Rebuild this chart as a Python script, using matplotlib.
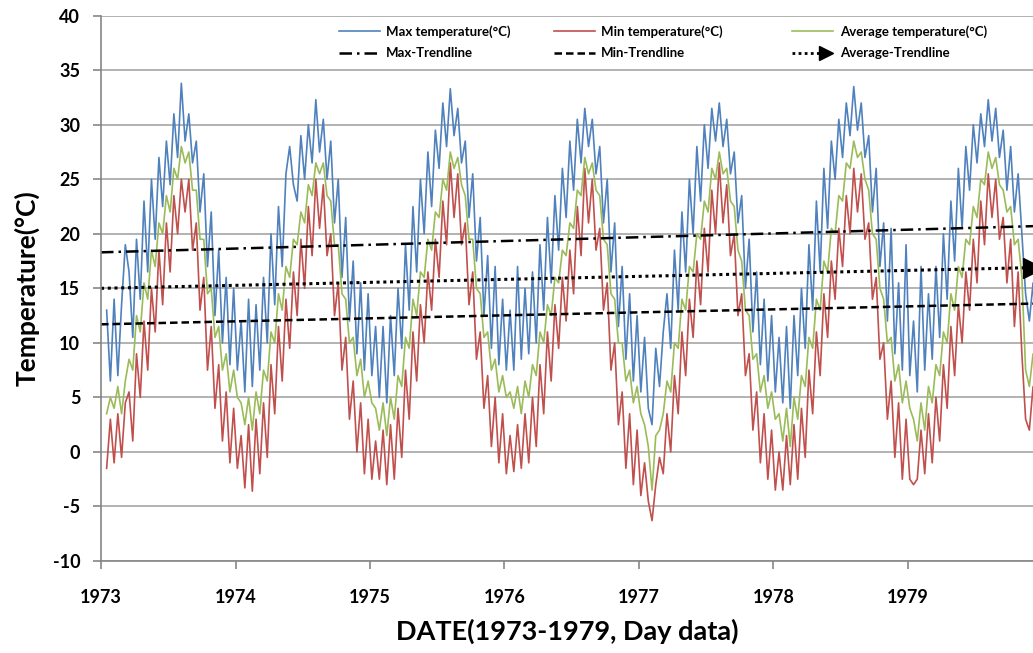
import matplotlib
matplotlib.use("Agg")
import matplotlib.pyplot as plt
from matplotlib.lines import Line2D
from matplotlib.legend_handler import HandlerBase
import numpy as np

plt.rcParams['font.family'] = ['Lato', 'DejaVu Sans']
plt.rcParams['font.weight'] = 'bold'
plt.rcParams['axes.unicode_minus'] = False

years = [1973, 1974, 1975, 1976, 1977, 1978, 1979]
points_per_year = 36  # roughly one reading every ten days

max_temp = [
    13.0, 6.5, 14.0, 7.0, 13.5, 19.0, 16.5, 10.5, 19.5, 14.0, 23.0, 16.5, 25.0, 19.5, 27.0, 22.5, 28.5, 24.5,
    31.0, 27.0, 33.8, 28.5, 31.0, 26.5, 28.5, 22.0, 25.5, 17.0, 22.0, 12.5, 18.5, 10.0, 16.0, 8.0, 15.0, 7.5,
    12.0, 5.5, 14.0, 6.0, 13.5, 7.5, 16.0, 10.0, 20.0, 13.5, 22.5, 17.0, 25.5, 28.0, 24.5, 23.0, 29.0, 25.0,
    30.0, 26.5, 32.3, 27.5, 30.5, 25.0, 28.5, 21.0, 25.0, 16.0, 21.5, 12.0, 17.5, 9.0, 15.5, 7.5, 14.5, 7.0,
    11.5, 5.0, 11.5, 4.5, 12.5, 7.0, 15.0, 9.5, 19.0, 13.0, 22.5, 16.5, 25.0, 20.0, 27.5, 22.5, 29.5, 26.0,
    32.0, 28.0, 33.3, 29.0, 31.5, 26.5, 28.5, 21.5, 25.5, 17.5, 21.5, 12.5, 18.0, 9.5, 17.0, 8.0, 14.0, 7.5,
    13.0, 7.5, 17.0, 8.5, 15.0, 9.0, 16.5, 10.0, 19.0, 13.0, 21.5, 15.5, 23.5, 18.5, 26.0, 21.5, 28.5, 24.0,
    30.5, 26.5, 31.5, 28.0, 30.5, 25.5, 28.0, 21.0, 25.0, 16.5, 21.0, 11.5, 17.0, 8.5, 14.5, 6.5, 12.5, 5.5,
    10.5, 4.0, 2.5, 9.5, 6.0, 11.0, 14.5, 9.5, 18.5, 13.0, 22.0, 16.5, 25.0, 20.0, 28.0, 23.0, 30.0, 26.0,
    31.5, 28.5, 32.0, 28.0, 30.5, 25.5, 27.5, 21.0, 23.5, 15.0, 19.5, 11.0, 16.5, 8.0, 14.0, 6.5, 12.5, 5.5,
    10.5, 4.5, 11.5, 4.0, 12.5, 7.0, 15.0, 9.5, 19.0, 13.0, 23.0, 16.5, 26.0, 20.5, 28.5, 25.0, 30.5, 27.0,
    32.0, 29.0, 33.5, 29.5, 32.0, 27.0, 29.0, 22.0, 26.0, 17.0, 21.0, 12.0, 20.5, 9.0, 15.5, 7.5, 19.0, 7.0,
    12.0, 5.5, 17.0, 7.5, 14.5, 8.5, 17.0, 10.5, 20.0, 14.0, 23.0, 17.5, 26.0, 20.5, 28.0, 24.0, 30.0, 26.5,
    31.0, 28.0, 32.3, 28.5, 31.5, 27.0, 29.5, 24.0, 28.0, 22.0, 25.5, 20.0, 14.5, 12.0, 15.5, 9.0, 12.5, 8.0,
]
min_temp = [
    -1.5, 3.0, -1.0, 3.5, -0.5, 4.5, 5.5, 1.0, 9.0, 5.0, 12.0, 7.5, 15.0, 11.0, 18.5, 13.5, 21.0, 16.5,
    23.5, 20.0, 25.0, 22.0, 25.0, 18.5, 21.0, 13.0, 16.0, 7.5, 11.5, 4.0, 8.0, 1.0, 5.5, -1.0, 4.0, -1.5,
    1.5, -3.3, 2.5, -3.6, 3.0, -2.0, 4.5, -0.5, 8.0, 3.5, 11.5, 6.5, 14.0, 9.5, 16.5, 12.5, 19.5, 15.0,
    22.5, 18.0, 25.0, 20.5, 24.5, 18.0, 20.0, 12.5, 15.5, 7.5, 10.5, 3.0, 6.5, 0.0, 4.5, -2.0, 3.0, -2.5,
    1.0, -2.5, 2.0, -3.0, 2.5, -2.5, 4.0, -0.5, 7.5, 3.0, 11.0, 6.5, 13.5, 10.0, 16.5, 13.0, 19.5, 16.0,
    23.0, 19.0, 26.5, 21.5, 25.5, 19.0, 21.0, 13.5, 16.5, 8.5, 11.0, 4.0, 7.0, 0.5, 5.0, -1.0, 3.5, -2.0,
    1.5, -1.8, 2.5, -1.5, 3.5, -1.0, 5.0, 0.5, 8.0, 3.5, 11.0, 6.5, 13.5, 9.5, 16.0, 12.0, 18.5, 14.5,
    22.5, 18.0, 26.0, 21.0, 25.0, 18.5, 20.5, 13.0, 15.5, 7.5, 10.0, 2.5, 5.5, -1.5, 3.5, -3.0, 2.0, -4.0,
    -1.0, -4.5, -6.3, -3.0, -0.5, -2.0, 3.5, 0.0, 7.0, 3.5, 11.0, 7.0, 14.0, 10.5, 17.5, 13.5, 20.5, 16.5,
    24.0, 20.0, 26.5, 21.0, 24.5, 18.0, 20.0, 12.5, 14.5, 7.0, 9.0, 2.0, 5.5, -1.0, 3.5, -2.5, 2.0, -3.5,
    0.0, -3.5, 1.5, -3.0, 2.5, -2.5, 4.0, -0.5, 7.5, 3.5, 11.0, 7.0, 14.5, 10.5, 17.5, 14.0, 20.5, 17.0,
    23.5, 20.0, 26.0, 22.0, 25.5, 19.5, 21.0, 14.0, 16.0, 8.5, 10.0, 3.0, 6.5, -0.5, 4.5, -2.5, 3.0, -2.5,
    -3.0, -2.5, 2.0, -2.0, 3.5, -1.0, 5.0, 1.0, 8.0, 4.0, 11.5, 7.0, 13.5, 10.0, 16.5, 13.0, 19.5, 15.5,
    23.0, 19.0, 25.5, 21.5, 25.0, 19.5, 21.5, 15.5, 19.5, 11.5, 16.5, 9.0, 3.0, 2.0, 6.0, 1.0, 2.0, 0.0,
]
avg_temp = [
    3.5, 5.0, 4.0, 6.0, 3.5, 6.5, 8.5, 7.5, 12.5, 11.0, 15.5, 14.0, 18.5, 17.0, 21.0, 20.0, 23.5, 22.0,
    26.0, 25.0, 28.0, 26.5, 27.5, 24.0, 24.0, 19.5, 19.5, 14.5, 15.0, 10.5, 11.5, 7.5, 9.0, 5.5, 7.5, 5.0,
    4.5, 2.5, 5.0, 2.0, 5.5, 3.5, 7.5, 6.5, 11.0, 10.0, 14.5, 13.0, 17.0, 16.0, 19.5, 19.0, 22.0, 21.0,
    24.5, 23.5, 26.5, 25.5, 26.5, 23.5, 23.0, 19.0, 19.0, 14.5, 14.0, 10.0, 10.5, 7.0, 8.5, 5.0, 6.5, 4.5,
    4.0, 2.0, 4.5, 1.5, 5.0, 3.0, 7.0, 6.0, 10.5, 9.5, 14.0, 12.5, 16.5, 16.0, 19.5, 18.5, 22.0, 21.5,
    25.0, 24.0, 27.5, 26.0, 27.0, 24.5, 23.5, 19.5, 19.5, 15.0, 14.5, 10.5, 11.0, 7.5, 8.5, 5.5, 7.0, 5.0,
    5.5, 4.0, 6.0, 3.5, 6.5, 5.0, 8.0, 7.0, 11.0, 10.0, 13.5, 12.5, 16.0, 15.5, 18.5, 18.0, 21.0, 20.5,
    24.0, 23.5, 27.0, 25.5, 26.5, 24.0, 23.5, 19.5, 19.0, 14.5, 14.0, 10.0, 10.0, 6.5, 7.5, 4.5, 6.0, 3.5,
    2.5, 0.5, -3.5, 1.5, 2.0, 3.5, 6.5, 5.5, 10.0, 9.5, 14.0, 13.0, 17.0, 16.5, 20.0, 19.5, 23.0, 22.0,
    26.0, 25.0, 27.5, 25.5, 26.0, 23.0, 22.5, 18.5, 17.5, 13.0, 12.5, 8.5, 9.0, 5.5, 7.0, 4.0, 5.5, 3.0,
    3.5, 1.0, 4.0, 0.5, 5.0, 3.0, 7.0, 6.0, 10.5, 9.5, 14.0, 13.0, 17.5, 16.5, 20.5, 20.0, 23.5, 23.0,
    26.5, 26.0, 28.5, 27.0, 27.5, 25.0, 24.0, 20.0, 19.5, 15.0, 14.0, 10.0, 10.5, 6.5, 8.0, 4.5, 6.5, 4.0,
    3.0, 1.0, 4.5, 2.0, 6.0, 4.5, 8.0, 7.0, 11.0, 10.0, 14.5, 13.0, 17.0, 16.0, 19.5, 19.0, 22.5, 21.5,
    25.0, 24.5, 27.5, 26.0, 27.0, 24.5, 24.0, 22.0, 22.5, 19.0, 19.5, 16.0, 7.5, 6.0, 9.0, 5.0, 6.0, 4.5,
]

# trendlines as read at the left and right edge of the plot
trend_x = [1973.0, 1979.93]
max_trend = [18.3, 20.7]
min_trend = [11.7, 13.6]
avg_trend = [15.0, 16.9]


class ArrowLineHandler(HandlerBase):
    # dotted handle with the arrow head at its right end, like the plot
    def create_artists(self, legend, orig_handle, xdescent, ydescent,
                       width, height, fontsize, trans):
        y = height / 2 - ydescent
        dots = Line2D([-xdescent, width - xdescent - 6], [y, y], color='black',
                      lw=2, linestyle=(0, (1, 1.2)))
        head = Line2D([width - xdescent - 5], [y], marker='>', markersize=10,
                      color='black', linestyle='none')
        dots.set_transform(trans)
        head.set_transform(trans)
        return [dots, head]


fig = plt.figure(figsize=(10.33, 6.53), dpi=100)
ax = fig.add_axes([0.0978, 0.1409, 0.9022, 0.8351])

dates = years[0] + (np.arange(len(max_temp)) + 1.5) / points_per_year

l_max, = ax.plot(dates, max_temp, color='#4F81BD', lw=1.2)
l_min, = ax.plot(dates, min_temp, color='#C0504D', lw=1.2)
l_avg, = ax.plot(dates, avg_temp, color='#9BBB59', lw=1.2)

t_max, = ax.plot(trend_x, max_trend, color='black', lw=1.8, linestyle=(0, (5, 2, 1, 2)))
t_min, = ax.plot(trend_x, min_trend, color='black', lw=1.8, linestyle=(0, (3, 1.6)))
t_avg, = ax.plot(trend_x, avg_trend, color='black', lw=2.2, linestyle=(0, (1, 1.2)),
                 marker='>', markevery=[1], markersize=14)

ax.set_xlim(1973, 1979.93)
ax.set_ylim(-10, 40)
ax.set_xticks(years)
ax.set_xticklabels([str(y) for y in years], fontweight='bold')
yt = np.arange(-10, 41, 5)
ax.set_yticks(yt)
ax.set_yticklabels([str(v) for v in yt], fontweight='bold')

ax.yaxis.grid(True, color='#A6A6A6', lw=1.2)
ax.set_axisbelow(True)
for side in ['top', 'right']:
    ax.spines[side].set_visible(False)
for side in ['left', 'bottom']:
    ax.spines[side].set_color('#868686')
    ax.spines[side].set_linewidth(1.2)

ax.tick_params(axis='both', direction='out', length=6, width=1.2, color='#868686',
               labelsize=13, labelcolor='black')
ax.tick_params(axis='x', pad=14)
ax.tick_params(axis='y', pad=9)

ax.set_xlabel('DATE(1973-1979, Day data)', fontsize=19.5, fontweight='bold', labelpad=9)
ax.set_ylabel('Temperature(°C)', fontsize=19, fontweight='bold', labelpad=9)

leg_kw = dict(loc='upper left', frameon=False, handlelength=3.1,
              handletextpad=0.5, labelspacing=0.75, borderpad=0, borderaxespad=0,
              prop={'size': 9.5, 'weight': 'bold'})
fig.legend([l_max, t_max], ['Max temperature(°C)', 'Max-Trendline'],
           bbox_to_anchor=(0.328, 0.962), **leg_kw)
fig.legend([l_min, t_min], ['Min temperature(°C)', 'Min-Trendline'],
           bbox_to_anchor=(0.536, 0.962), **leg_kw)
fig.legend([l_avg, t_avg], ['Average temperature(°C)', 'Average-Trendline'],
           bbox_to_anchor=(0.767, 0.962), handler_map={t_avg: ArrowLineHandler()}, **leg_kw)

fig.savefig('out.png', dpi=100)
